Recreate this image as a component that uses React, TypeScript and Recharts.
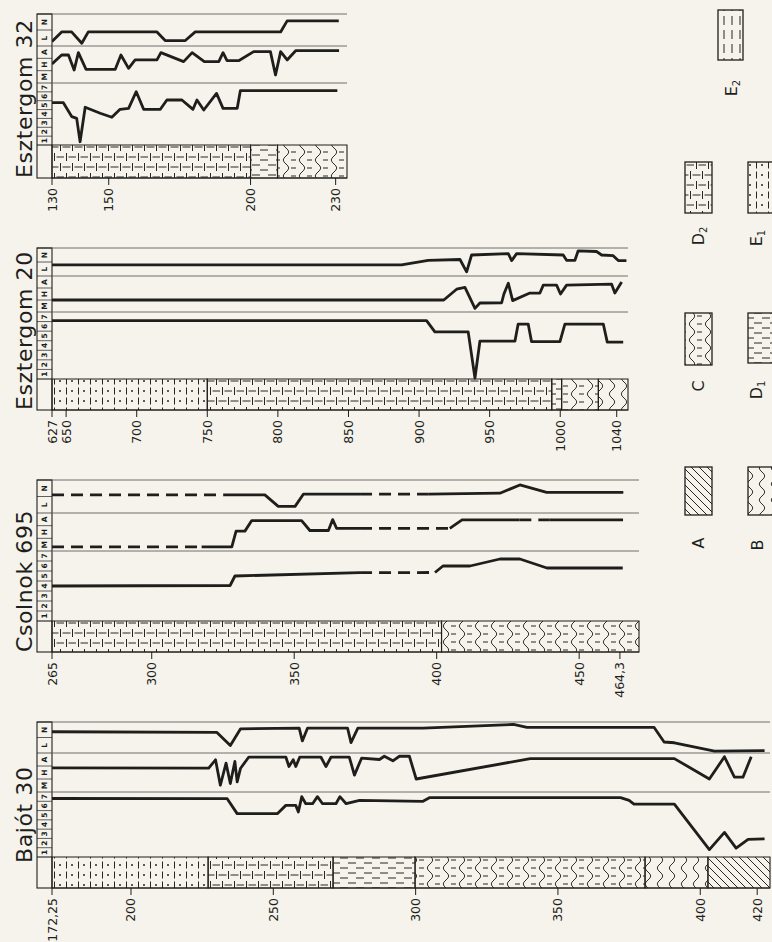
import { ComposedChart, Line, XAxis, YAxis, ReferenceArea, ReferenceLine } from 'recharts';

type Pt = [number, number];
type Seg = { from: number; to: number; rock: string };

const INK = '#1e1e1c';
const RULE = '#6f6f6a';
const PAPER = '#f5f3eb';
const FONT = '"DejaVu Sans", "Liberation Sans", sans-serif';

// header cells, bottom to top inside each panel
const sevenCells = ['1', '2', '3', '4', '5', '6', '7'];
const mhaCells = ['M', 'H', 'A'];
const lnCells = ['L', 'N'];

// ---- Esztergom 32 ----
const e32Ticks = [130, 150, 200, 230];
const e32TickLabels = ['130', '150', '200', '230'];
const e32Lith: Seg[] = [
  { from: 130, to: 200, rock: 'D2' },
  { from: 200, to: 209.5, rock: 'D1' },
  { from: 209.5, to: 234, rock: 'C' },
];
const e32Ln: Pt[] = [[130, 0.78], [133.4, 1.38], [136.9, 1.38], [140.5, 0.67], [142.8, 1.38], [167, 1.38], [169.9, 0.84], [177, 0.84], [180.5, 1.38], [210.6, 1.38], [212.9, 2.07], [231.1, 2.07]];
const e32Mha: Pt[] = [[130, 2.04], [133.4, 2.77], [135.8, 2.77], [137.8, 1.55], [139.3, 2.96], [142, 1.61], [152.3, 1.61], [154.3, 2.77], [157, 1.69], [159.3, 2.37], [167, 2.37], [168.4, 2.96], [176.4, 2.23], [179.4, 2.96], [183.7, 2.23], [188.8, 2.23], [190.3, 2.96], [191.7, 2.31], [195.8, 2.31], [201.1, 3.04], [207, 3.04], [208.8, 1.15], [210.6, 3.04], [212.9, 2.37], [215.9, 3.12], [231.2, 3.12]];
const e32Seven: Pt[] = [[130, 5.28], [134, 5.28], [137, 3.7], [138.7, 3.51], [139.9, 0.87], [141.7, 4.76], [147, 4.08], [151.1, 3.63], [154, 4.53], [157, 4.64], [159.7, 6.52], [162.3, 4.53], [168.2, 4.53], [170.5, 5.58], [175.8, 5.58], [179.7, 4.53], [181.1, 5.58], [183.5, 4.45], [188, 6.33], [190.3, 4.64], [195.3, 4.64], [196.4, 6.63], [230.6, 6.63]];

// ---- Esztergom 20 (top of hole 627 m, drawn compressed at the left edge) ----
const e20Ticks = [640, 650, 700, 750, 800, 850, 900, 950, 1000, 1040];
const e20TickLabels = ['627', '650', '700', '750', '800', '850', '900', '950', '1000', '1040'];
const e20Lith: Seg[] = [
  { from: 640, to: 750, rock: 'E1' },
  { from: 750, to: 994, rock: 'D2' },
  { from: 994, to: 1001, rock: 'D1' },
  { from: 1001, to: 1027, rock: 'C' },
  { from: 1027, to: 1048, rock: 'B' },
];
const e20Ln: Pt[] = [[640, 1.3], [887.6, 1.3], [906.5, 1.62], [929, 1.68], [933.7, 0.8], [937.2, 2.0], [963.2, 2.1], [965.6, 1.6], [969.1, 2.1], [1002.1, 2.0], [1004.5, 1.62], [1010.4, 1.62], [1012.7, 2.3], [1025.7, 2.25], [1029.3, 2.0], [1037.5, 1.95], [1041.1, 1.6], [1046.9, 1.6]];
const e20Mha: Pt[] = [[640, 1.5], [917.5, 1.5], [926.6, 2.4], [932.5, 2.55], [939.6, 0.8], [943.1, 1.25], [958.5, 1.27], [960.1, 2.0], [963.2, 2.9], [966.3, 1.45], [978.5, 2.08], [985.6, 2.08], [988, 2.74], [997.4, 2.74], [1000.2, 2.0], [1004.5, 2.74], [1036.4, 2.82], [1038.7, 2.08], [1043.5, 3.0]];
const e20Seven: Pt[] = [[640, 6.6], [905.3, 6.6], [911.2, 5.42], [934.8, 5.42], [939.6, 0.6], [943.1, 4.45], [967.9, 4.45], [970.2, 6.24], [977.3, 6.24], [979.7, 4.4], [999.8, 4.4], [1003.3, 6.24], [1030.5, 6.24], [1033.3, 4.35], [1044.6, 4.35]];

// ---- Csolnok 695 ----
const csTicks = [265, 300, 350, 400, 450, 464.3];
const csTickLabels = ['265', '300', '350', '400', '450', '464,3'];
const csLith: Seg[] = [
  { from: 265, to: 401.7, rock: 'D2' },
  { from: 401.7, to: 471, rock: 'C' },
];
const csLn: Pt[] = [[265, 1.6], [325.1, 1.6], [339.7, 1.6], [344.4, 0.9], [350.3, 0.9], [353.2, 1.64], [373.1, 1.64], [397, 1.64], [422.2, 1.7], [429.2, 2.2], [438.6, 1.75], [465.5, 1.75]];
const csLnDashed: Pt[] = [[265, 325.1], [373.1, 397]];
const csMha: Pt[] = [[265, 0.82], [317.5, 0.82], [328.1, 0.82], [329.6, 2.07], [332.7, 2.07], [335.1, 2.9], [352.6, 2.9], [355.5, 2.12], [362, 2.12], [363.5, 2.98], [364.9, 2.28], [373.1, 2.28], [404.6, 2.28], [408.9, 2.95], [429, 2.95], [439.7, 2.95], [465.4, 2.95]];
const csMhaDashed: Pt[] = [[265, 317.5], [373.1, 404.6], [429, 439.7]];
const csSeven: Pt[] = [[265, 4.0], [327.5, 4.05], [329.2, 5.0], [373.1, 5.33], [399.4, 5.35], [402.2, 6.0], [411.7, 6.0], [422.2, 6.7], [429.2, 6.7], [438.7, 5.8], [465.3, 5.8]];
const csSevenDashed: Pt[] = [[373.1, 399.4]];

// ---- Bajót 30 ----
const bjTicks = [172.25, 200, 250, 300, 350, 400, 420];
const bjTickLabels = ['172,25', '200', '250', '300', '350', '400', '420'];
const bjLith: Seg[] = [
  { from: 172.25, to: 227.1, rock: 'E1' },
  { from: 227.1, to: 271, rock: 'D2' },
  { from: 271, to: 299.8, rock: 'D1' },
  { from: 299.8, to: 380.6, rock: 'C' },
  { from: 380.6, to: 402.7, rock: 'B' },
  { from: 402.7, to: 424.5, rock: 'A' },
];
const bjLn: Pt[] = [[172.25, 1.87], [230.2, 1.83], [234.9, 0.99], [238.5, 2.06], [259.1, 2.1], [260.2, 1.28], [262, 2.1], [276.1, 2.1], [277.3, 1.17], [279.7, 2.1], [302.6, 2.1], [334.4, 2.34], [339.1, 2.15], [383.8, 2.15], [387.3, 1.21], [390.9, 1.16], [405, 0.62], [422.6, 0.65]];
const bjMha: Pt[] = [[172.25, 2.36], [227.3, 2.33], [229.7, 2.98], [231.4, 1.02], [233.4, 2.72], [234.9, 1.15], [236.5, 2.85], [237.3, 1.28], [238.5, 2.33], [241.4, 3.19], [254.4, 3.19], [255.5, 2.46], [257, 2.98], [257.9, 2.46], [259.3, 3.19], [266.7, 3.19], [268.5, 2.46], [270.3, 3.19], [276.7, 3.19], [278.5, 1.8], [281, 3.1], [287.3, 3.0], [289, 3.25], [292, 2.9], [294.3, 3.25], [297.8, 3.25], [300.2, 1.5], [340.3, 3.07], [390.9, 3.07], [403.2, 1.5], [408.5, 3.21], [412, 1.64], [415, 1.64], [417.9, 3.21]];
const bjSeven: Pt[] = [[172.25, 6.8], [233.8, 6.78], [237.3, 5.17], [251.4, 5.17], [254.4, 6.06], [257.9, 6.06], [258.8, 5.35], [260, 7.0], [261.4, 6.24], [263.8, 6.24], [265.5, 7.0], [267.3, 6.24], [272, 6.24], [273.4, 7.0], [275.6, 6.24], [280.3, 6.6], [302.6, 6.5], [305, 6.9], [372, 6.9], [375, 6.6], [376.7, 6.2], [390.9, 6.2], [403.2, 1.3], [408.5, 3.15], [412.6, 1.45], [416.8, 2.4], [422.6, 2.45]];

// legend
const legendRocks = ['A', 'B', 'C', 'D1', 'D2', 'E1', 'E2'];

interface LogDef {
  name: string;
  top: number;
  titleBottom: number;
  plotRight: number;
  domain: [number, number];
  frame: [number, number, number, number]; // line1, line2, lith top, lith bottom (offsets from top)
  ticks: number[];
  tickLabels: string[];
  lith: Seg[];
  ln: Pt[];
  mha: Pt[];
  seven: Pt[];
  lnDashed?: Pt[];
  mhaDashed?: Pt[];
  sevenDashed?: Pt[];
}

const logs: LogDef[] = [
  { name: 'Esztergom 32', top: 14, titleBottom: 178, plotRight: 347, domain: [130, 234], frame: [32, 69, 131, 164], ticks: e32Ticks, tickLabels: e32TickLabels, lith: e32Lith, ln: e32Ln, mha: e32Mha, seven: e32Seven },
  { name: 'Esztergom 20', top: 248, titleBottom: 410, plotRight: 628, domain: [640, 1048], frame: [28, 64, 131, 162], ticks: e20Ticks, tickLabels: e20TickLabels, lith: e20Lith, ln: e20Ln, mha: e20Mha, seven: e20Seven },
  { name: 'Csolnok 695', top: 480, titleBottom: 652, plotRight: 639, domain: [265, 471], frame: [33, 71, 141, 172], ticks: csTicks, tickLabels: csTickLabels, lith: csLith, ln: csLn, mha: csMha, seven: csSeven, lnDashed: csLnDashed, mhaDashed: csMhaDashed, sevenDashed: csSevenDashed },
  { name: 'Bajót 30', top: 722, titleBottom: 863, plotRight: 770, domain: [172.25, 424.5], frame: [31, 70, 135, 166], ticks: bjTicks, tickLabels: bjTickLabels, lith: bjLith, ln: bjLn, mha: bjMha, seven: bjSeven },
];

function panelDomain(lo: number, hi: number, p0: number, p1: number, h: number): [number, number] {
  const k = (hi - lo) / (p1 - p0);
  return [lo - (h - p1) * k, hi + p0 * k];
}

function solidPart(pts: Pt[], ranges: Pt[]) {
  const out: { d: number; v: number | null }[] = [];
  pts.forEach(([d, v]) => {
    if (ranges.some(([a, b]) => d > a && d < b)) return;
    out.push({ d, v });
    const r = ranges.find(([a]) => a === d);
    if (r) out.push({ d: (r[0] + r[1]) / 2, v: null });
  });
  return out;
}

function dashPart(pts: Pt[], ranges: Pt[]) {
  const out: { d: number; v: number | null }[] = [];
  ranges.forEach(([a, b]) => {
    pts.filter(([d]) => d >= a && d <= b).forEach(([d, v]) => out.push({ d, v }));
    out.push({ d: b + 0.01, v: null });
  });
  return out;
}

function curve(id: string, pts: Pt[], ranges: Pt[] = []) {
  const lineProps = {
    yAxisId: id,
    dataKey: 'v',
    type: 'linear' as const,
    stroke: INK,
    strokeWidth: 2.8,
    dot: false,
    activeDot: false,
    isAnimationActive: false,
    strokeLinejoin: 'round' as const,
  };
  const out = [<Line key={id + '-s'} {...lineProps} data={solidPart(pts, ranges)} />];
  if (ranges.length) out.push(<Line key={id + '-d'} {...lineProps} data={dashPart(pts, ranges)} strokeDasharray="12 7" strokeLinecap="butt" />);
  return out;
}

const DepthTick = (props: any) => {
  const { x, y, payload, ticks, labels } = props;
  const i = ticks.indexOf(payload.value);
  return (
    <g transform={`translate(${x},${y}) rotate(-90)`}>
      <text textAnchor="end" dy="0.36em" fontSize={12.5} fill={INK} fontFamily={FONT}>
        {i >= 0 ? labels[i] : payload.value}
      </text>
    </g>
  );
};

function LogChart({ log }: { log: LogDef }) {
  const [l1, l2, lt, lb] = log.frame;
  const left = 42;
  const mLeft = 10;
  const mTop = 2;
  const axisH = 62;
  const width = log.plotRight - (left + mLeft) + mLeft + 6;
  return (
    <div style={{ position: 'absolute', left, top: log.top - mTop }}>
      <ComposedChart width={width} height={mTop + lb + axisH} margin={{ top: mTop, right: 6, bottom: 0, left: mLeft }}>
        <XAxis
          type="number"
          dataKey="d"
          domain={log.domain}
          ticks={log.ticks}
          interval={0}
          allowDataOverflow
          height={axisH}
          tickSize={7}
          tickMargin={3}
          axisLine={{ stroke: INK, strokeWidth: 1.2 }}
          tickLine={{ stroke: INK, strokeWidth: 1 }}
          tick={(p: any) => <DepthTick {...p} ticks={log.ticks} labels={log.tickLabels} />}
        />
        <YAxis yAxisId="ln" hide type="number" allowDataOverflow domain={panelDomain(0.5, 2.5, 0, l1, lb)} />
        <YAxis yAxisId="mha" hide type="number" allowDataOverflow domain={panelDomain(0.5, 3.5, l1, l2, lb)} />
        <YAxis yAxisId="seven" hide type="number" allowDataOverflow domain={panelDomain(0.5, 7.5, l2, lt, lb)} />
        <YAxis yAxisId="lith" hide type="number" allowDataOverflow domain={panelDomain(0, 1, lt, lb, lb)} />
        <ReferenceLine yAxisId="ln" y={2.5} stroke={RULE} strokeWidth={1} />
        <ReferenceLine yAxisId="ln" y={0.5} stroke={RULE} strokeWidth={1} />
        <ReferenceLine yAxisId="mha" y={0.5} stroke={RULE} strokeWidth={1} />
        {log.lith.map((s) => (
          <ReferenceArea
            key={s.from}
            yAxisId="lith"
            x1={s.from}
            x2={s.to}
            y1={0}
            y2={1}
            fill={`url(#rock-${s.rock})`}
            fillOpacity={1}
            stroke={INK}
            strokeWidth={1.1}
          />
        ))}
        {curve('ln', log.ln, log.lnDashed)}
        {curve('mha', log.mha, log.mhaDashed)}
        {curve('seven', log.seven, log.sevenDashed)}
      </ComposedChart>
    </div>
  );
}

function cellsFor(labels: string[], top: number, p0: number, p1: number) {
  const h = (p1 - p0) / labels.length;
  return labels.map((t, i) => ({ t, y0: top + p1 - (i + 1) * h, h }));
}

function Header({ log }: { log: LogDef }) {
  const [l1, l2, lt, lb] = log.frame;
  const T = log.top;
  const cells = [
    ...cellsFor(lnCells, T, 0, l1),
    ...cellsFor(mhaCells, T, l1, l2),
    ...cellsFor(sevenCells, T, l2, lt),
  ];
  return (
    <g>
      <rect x={37} y={T} width={15} height={lb} fill="none" stroke={INK} strokeWidth={1.1} />
      {cells.map((c) => (
        <g key={c.t}>
          <line x1={37} x2={52} y1={c.y0} y2={c.y0} stroke={INK} strokeWidth={0.7} />
          <text
            transform={`translate(44.5,${c.y0 + c.h / 2}) rotate(-90)`}
            textAnchor="middle"
            dy="0.35em"
            fontSize={7.5}
            fontWeight="bold"
            fill={INK}
            fontFamily={FONT}
          >
            {c.t}
          </text>
        </g>
      ))}
      <line x1={37} x2={52} y1={T + lt} y2={T + lt} stroke={INK} strokeWidth={1.1} />
      <text
        transform={`translate(32,${log.titleBottom}) rotate(-90)`}
        fontSize={22}
        letterSpacing={0.6}
        fill={INK}
        fontFamily={FONT}
      >
        {log.name}
      </text>
    </g>
  );
}

const legendPlaces: Record<string, { x: number; y: number; w: number; h: number; lx: number; ly: number }> = {
  A: { x: 685, y: 467, w: 27, h: 48, lx: 698, ly: 543 },
  B: { x: 748, y: 467, w: 27, h: 48, lx: 757, ly: 545 },
  C: { x: 685, y: 313, w: 27, h: 52, lx: 698, ly: 386 },
  D1: { x: 748, y: 313, w: 27, h: 50, lx: 756, ly: 390 },
  D2: { x: 685, y: 162, w: 27, h: 51, lx: 698, ly: 236 },
  E1: { x: 748, y: 162, w: 27, h: 51, lx: 756, ly: 238 },
  E2: { x: 718, y: 10, w: 25, h: 50, lx: 731, ly: 88 },
};

function Patterns() {
  const st = { stroke: '#262624', strokeWidth: 1, fill: 'none' };
  return (
    <defs>
      <pattern id="rock-D2" width={12} height={20} patternUnits="userSpaceOnUse">
        <path d="M0.5 1 V9 M6.5 11 V19" {...st} />
        <path d="M2.5 5 H10 M-3 15 H4.5 M8.5 15 H16" {...st} />
      </pattern>
      <pattern id="rock-E1" width={12} height={10} patternUnits="userSpaceOnUse">
        <path d="M0.5 1.5 V8.5" {...st} />
        <circle cx={6} cy={5} r={1} fill="#262624" />
      </pattern>
      <pattern id="rock-D1" width={16} height={10} patternUnits="userSpaceOnUse">
        <path d="M2 3 H10 M10 8 H18 M-6 8 H2" {...st} />
      </pattern>
      <pattern id="rock-C" width={16} height={16} patternUnits="userSpaceOnUse">
        <path d="M4 0 C0.5 3 0.5 5 4 8 C7.5 11 7.5 13 4 16" {...st} />
        <path d="M9 4 H14 M9 12 H14" {...st} />
      </pattern>
      <pattern id="rock-B" width={12} height={16} patternUnits="userSpaceOnUse">
        <path d="M6 0 C2.5 3 2.5 5 6 8 C9.5 11 9.5 13 6 16" {...st} />
      </pattern>
      <pattern id="rock-A" width={8} height={8} patternUnits="userSpaceOnUse">
        <path d="M-1 -1 L9 9 M-5 3 L5 13 M3 -5 L13 5" {...st} />
      </pattern>
      <pattern id="rock-E2" width={8} height={14} patternUnits="userSpaceOnUse">
        <path d="M4 2 V11" {...st} />
      </pattern>
    </defs>
  );
}

function Legend() {
  return (
    <g>
      {legendRocks.map((r) => {
        const p = legendPlaces[r];
        return (
          <g key={r}>
            <rect x={p.x} y={p.y} width={p.w} height={p.h} fill={`url(#rock-${r})`} stroke={INK} strokeWidth={1.3} />
            <text transform={`translate(${p.lx},${p.ly}) rotate(-90)`} textAnchor="middle" dy="0.35em" fontSize={16} fill={INK} fontFamily={FONT}>
              {r[0]}
              {r.length > 1 ? <tspan fontSize={10} dy={3}>{r.slice(1)}</tspan> : null}
            </text>
          </g>
        );
      })}
    </g>
  );
}

export default function App() {
  return (
    <div style={{ position: 'absolute', left: 0, top: 0, width: 772, height: 942, background: PAPER, overflow: 'hidden' }}>
      <svg width={772} height={942} style={{ position: 'absolute', left: 0, top: 0 }}>
        <Patterns />
        {logs.map((l) => (
          <Header key={l.name} log={l} />
        ))}
        <Legend />
      </svg>
      {logs.map((l) => (
        <LogChart key={l.name} log={l} />
      ))}
    </div>
  );
}
